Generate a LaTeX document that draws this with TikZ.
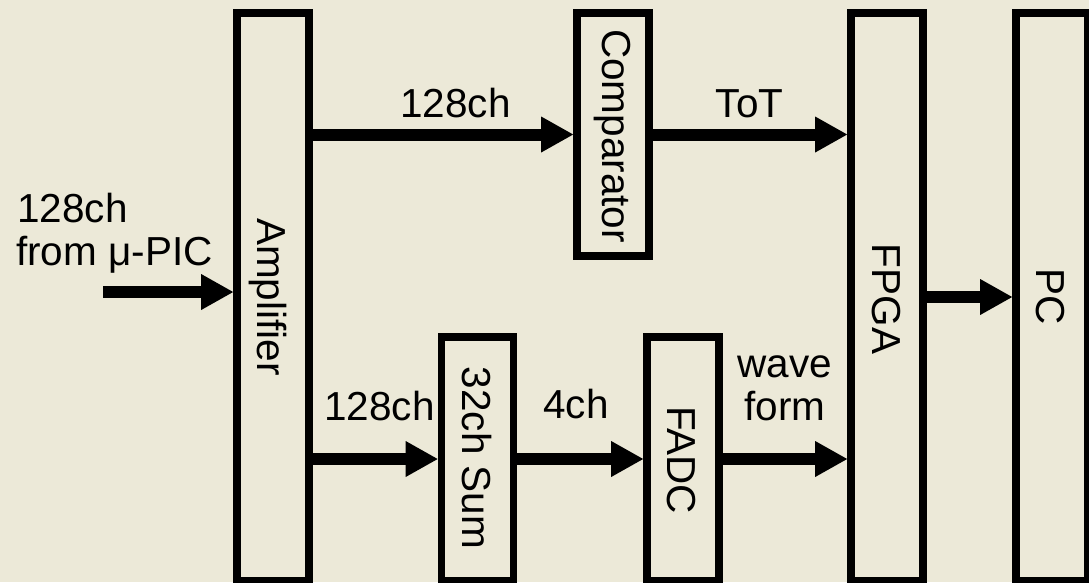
\documentclass[tikz,border=0pt]{standalone}
\usepackage{fontspec}
\setmainfont{Liberation Sans}
\usetikzlibrary{arrows.meta}
\definecolor{bg}{RGB}{236,233,216}
\begin{document}
\begin{tikzpicture}[x=1pt,y=-1pt,
  blk/.style={draw=black, line width=7.7pt, fill=bg, minimum width=72pt, inner sep=0pt},
  txt/.style={font=\fontsize{40.5}{43}\selectfont, inner sep=0pt, text=black},
  vtxt/.style={txt, rotate=-90},
  conn/.style={line width=12pt, -{Triangle[length=32pt,width=36pt,line width=0pt]}}
]
\fill[bg] (0,0) rectangle (1089,582);
\useasboundingbox (0,0) rectangle (1089,582);

\node[blk, minimum height=568pt] (amp) at (273,297) {};
\node[blk, minimum height=243pt] (comp) at (613,134.5) {};
\node[blk, minimum height=244pt] (sum) at (477.5,459) {};
\node[blk, minimum height=244pt] (fadc) at (683,459) {};
\node[blk, minimum height=568pt] (fpga) at (887,297) {};
\node[blk, minimum height=568pt] (pc) at (1052,297) {};

\node[vtxt] (ampT) at (268,297) {Amplifier};
\node[vtxt] (compT) at (612,136) {Comparator};
\node[vtxt] (sumT) at (477,458) {32ch Sum};
\node[vtxt] (fadcT) at (681,460) {FADC};
\node[vtxt] (fpgaT) at (886,299) {FPGA};
\node[vtxt] (pcT) at (1050,297) {PC};

\node[txt, anchor=base] (l1) at (455.5,117) {128ch};
\node[txt, anchor=base] (l2) at (749.5,117) {ToT};
\node[txt, anchor=base west] (l3) at (17,222) {128ch};
\node[txt, anchor=base west] (l4) at (16,265) {from μ-PIC};
\node[txt, anchor=base] (l5) at (379.5,420) {128ch};
\node[txt, anchor=base] (l6) at (576,418) {4ch};
\node[txt, anchor=base] (l7) at (785,377) {wave};
\node[txt, anchor=base] (l8) at (785,420) {form};

\coordinate (src) at (103,292);
\draw[conn] (src) -- (src -| amp.west);
\draw[conn] (amp.east |- comp.west) -- (comp.west);
\draw[conn] (comp.east) -- (comp.east -| fpga.west);
\draw[conn] (amp.east |- sum.west) -- (sum.west);
\draw[conn] (sum.east) -- (fadc.west);
\draw[conn] (fadc.east) -- (fadc.east -| fpga.west);
\draw[conn] (fpga.east) -- (pc.west);
\end{tikzpicture}
\end{document}
